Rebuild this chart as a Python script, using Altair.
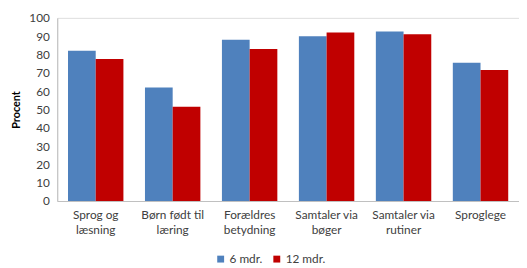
import altair as alt
import pandas as pd

categories = ["Sprog og læsning", "Børn født til læring", "Forældres betydning",
              "Samtaler via bøger", "Samtaler via rutiner", "Sproglege"]
series = ["6 mdr.", "12 mdr."]
values_6 = [82, 62, 88, 90, 92.5, 75.5]
values_12 = [77.5, 51.5, 83, 92, 91, 71.5]
colors = ["#4F81BD", "#C00000"]
y_ticks = list(range(0, 101, 10))

rows = []
for c, a, b in zip(categories, values_6, values_12):
    rows.append({"cat": c, "serie": series[0], "val": a})
    rows.append({"cat": c, "serie": series[1], "val": b})
df = pd.DataFrame(rows)

FONT = "Lato"
TXT = "#404040"

label_expr = ("lastindexof(datum.label, ' ') > 0 ? "
              "[substring(datum.label, 0, lastindexof(datum.label, ' ')), "
              "substring(datum.label, lastindexof(datum.label, ' ') + 1)] : datum.label")

chart = alt.Chart(df).mark_bar().encode(
    x=alt.X("cat:N", sort=categories, title=None,
            scale=alt.Scale(paddingInner=0.28, paddingOuter=0.14),
            axis=alt.Axis(labelAngle=0, labelExpr=label_expr, labelFont=FONT,
                          labelFontSize=12, labelColor=TXT, labelLineHeight=15,
                          labelPadding=9, ticks=False, domainColor="#BFBFBF",
                          labelBound=False, labelOverlap=False)),
    xOffset=alt.XOffset("serie:N", sort=series, scale=alt.Scale(paddingInner=0, paddingOuter=0)),
    y=alt.Y("val:Q", title="Procent",
            scale=alt.Scale(domain=[0, 100], nice=False),
            axis=alt.Axis(values=y_ticks, grid=False, ticks=False, labelPadding=8,
                          labelFont=FONT, labelFontSize=12, labelColor=TXT,
                          titleFont=FONT, titleFontSize=11, titleFontWeight="bold",
                          titleColor="#000000", titlePadding=7, domainColor="#BFBFBF")),
    color=alt.Color("serie:N", sort=series, title=None,
                    scale=alt.Scale(domain=series, range=colors),
                    legend=alt.Legend(orient="none", direction="horizontal",
                                      legendX=160, legendY=239, symbolType="square",
                                      symbolSize=49, symbolStrokeWidth=0,
                                      labelFont=FONT, labelFontSize=12, labelColor=TXT,
                                      columnPadding=8, labelOffset=3)),
).properties(
    width=469, height=186,
    autosize=alt.AutoSizeParams(type="none"),
    padding={"left": 50, "top": 8, "right": 0, "bottom": 66},
).configure_view(stroke=None).configure(background="#FFFFFF")

chart.save("out.html", embed_options={"renderer": "svg", "actions": False})
